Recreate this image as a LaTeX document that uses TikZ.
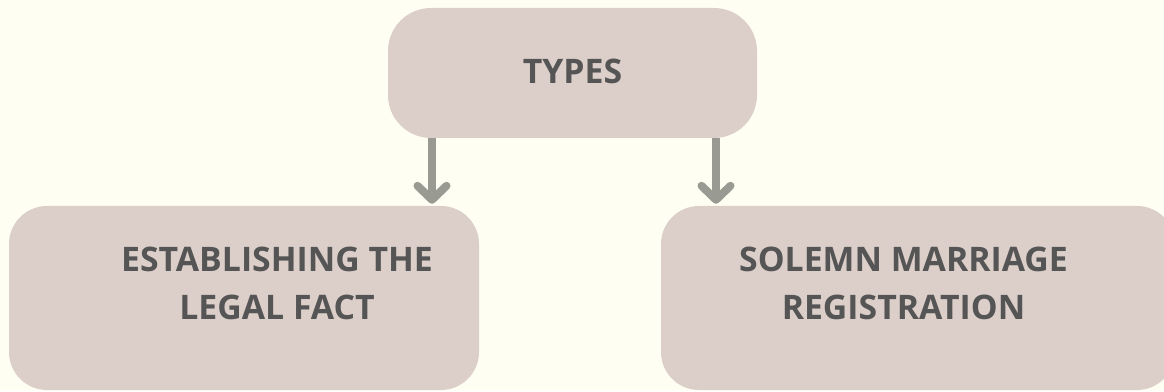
\documentclass[tikz,border=0pt]{standalone}
\usepackage{fontspec}
\setmainfont{Open Sans}
\usetikzlibrary{positioning}
\usetikzlibrary{calc}
\usetikzlibrary{arrows.meta}
\definecolor{bgcream}{HTML}{FFFEF3}
\definecolor{boxfill}{HTML}{DCCFCA}
\definecolor{labelgray}{HTML}{555555}
\definecolor{arrowgray}{HTML}{999B92}

\begin{document}
\begin{tikzpicture}[x=1pt,y=1pt,
	box/.style={fill=boxfill,draw=none,inner sep=0pt},
	label/.style={text=labelgray,align=center,inner sep=0pt,
		font=\fontsize{33.8}{48}\selectfont\bfseries},
	arrowline/.style={draw=arrowgray,line width=8pt,
		-{Straight Barb[length=14pt,width=29pt,round]},shorten >=2pt}]
	\fill[bgcream] (0,0) rectangle (1164,391);
	\useasboundingbox (0,0) rectangle (1164,391);
	% boxes
	\node[box,minimum width=369pt,minimum height=130pt,rounded corners=43pt] (typesbox) at (572.5,318) {};
	\node[box,minimum width=470pt,minimum height=184pt,rounded corners=38pt] (legalbox) at (244,93) {};
	\node[box,minimum width=514pt,minimum height=184pt,rounded corners=38pt] (solemnbox) at (918,93) {};
	% texts
	\node[label] (types) at (572.5,319.5) {TYPES};
	\node[label] (legal) at (277,108) {ESTABLISHING THE\\LEGAL FACT};
	\node[label] (solemn) at (903.5,108) {SOLEMN MARRIAGE\\REGISTRATION};
	% arrows
	\draw[arrowline] ([xshift=-140.5pt]typesbox.south) -- ([xshift=-140.5pt]typesbox.south |- legalbox.north);
	\draw[arrowline] ([xshift=143.5pt]typesbox.south) -- ([xshift=143.5pt]typesbox.south |- solemnbox.north);
\end{tikzpicture}
\end{document}
